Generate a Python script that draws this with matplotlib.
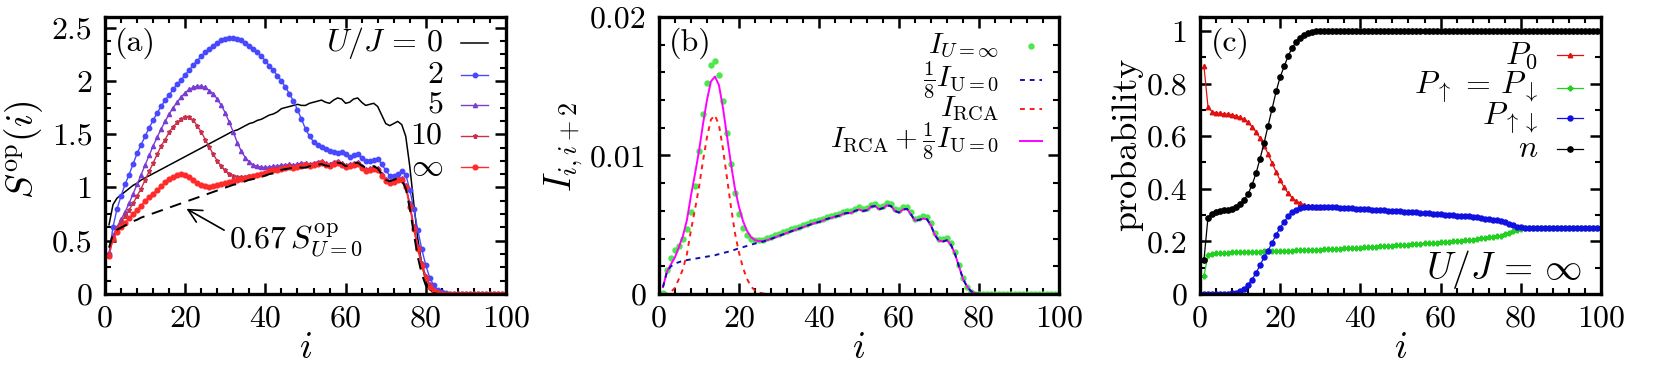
import matplotlib
matplotlib.use("Agg")
import matplotlib.pyplot as plt
import numpy as np

plt.rcParams["font.family"] = "serif"
plt.rcParams["font.serif"] = ["cmr10", "DejaVu Serif"]
plt.rcParams["mathtext.fontset"] = "cm"
plt.rcParams["axes.formatter.use_mathtext"] = True

# site index
site = np.arange(1, 101)

# ---------------- panel (a): S^op(i) ----------------
s_u0 = [0.65, 0.84, 0.90, 0.93, 0.96, 0.99, 1.02, 1.04, 1.07, 1.09,
        1.11, 1.13, 1.15, 1.17, 1.19, 1.21, 1.23, 1.25, 1.27, 1.29,
        1.31, 1.33, 1.35, 1.37, 1.39, 1.41, 1.43, 1.45, 1.47, 1.49,
        1.51, 1.53, 1.54, 1.56, 1.58, 1.60, 1.61, 1.63, 1.64, 1.66,
        1.68, 1.69, 1.71, 1.74, 1.75, 1.76, 1.77, 1.78, 1.77, 1.77,
        1.79, 1.80, 1.81, 1.82, 1.80, 1.79, 1.82, 1.84, 1.83, 1.79,
        1.80, 1.83, 1.84, 1.80, 1.77, 1.78, 1.79, 1.76, 1.68, 1.60,
        1.58, 1.60, 1.62, 1.59, 1.48, 1.20, 0.85, 0.52, 0.28, 0.12,
        0.04, 0.01, 0.0, 0.0, 0.0, 0.0, 0.0, 0.0, 0.0, 0.0,
        0.0, 0.0, 0.0, 0.0, 0.0, 0.0, 0.0, 0.0, 0.0, 0.0]
s_u2 = [0.38, 0.63, 0.80, 0.92, 1.03, 1.12, 1.22, 1.32, 1.40, 1.48,
        1.56, 1.63, 1.70, 1.76, 1.82, 1.87, 1.92, 1.97, 2.01, 2.06,
        2.10, 2.15, 2.19, 2.23, 2.27, 2.30, 2.33, 2.36, 2.38, 2.39,
        2.40, 2.40, 2.39, 2.38, 2.36, 2.33, 2.30, 2.27, 2.23, 2.19,
        2.14, 2.10, 2.05, 2.00, 1.94, 1.88, 1.81, 1.73, 1.64, 1.55,
        1.48, 1.43, 1.40, 1.38, 1.36, 1.34, 1.33, 1.32, 1.33, 1.31,
        1.29, 1.30, 1.31, 1.28, 1.25, 1.25, 1.26, 1.27, 1.22, 1.16,
        1.11, 1.11, 1.13, 1.15, 1.12, 0.98, 0.80, 0.60, 0.42, 0.27,
        0.15, 0.08, 0.04, 0.02, 0.01, 0.0, 0.0, 0.0, 0.0, 0.0,
        0.0, 0.0, 0.0, 0.0, 0.0, 0.0, 0.0, 0.0, 0.0, 0.0]
s_u5 = [0.38, 0.55, 0.63, 0.70, 0.77, 0.85, 0.94, 1.03, 1.12, 1.21,
        1.30, 1.39, 1.47, 1.55, 1.62, 1.69, 1.75, 1.80, 1.85, 1.89,
        1.92, 1.94, 1.95, 1.95, 1.94, 1.91, 1.88, 1.83, 1.77, 1.70,
        1.61, 1.52, 1.42, 1.34, 1.28, 1.24, 1.21, 1.20, 1.19, 1.19,
        1.19, 1.20, 1.20, 1.21, 1.21, 1.22, 1.21, 1.22, 1.23, 1.23,
        1.22, 1.23, 1.24, 1.25, 1.23, 1.22, 1.24, 1.25, 1.23, 1.21,
        1.22, 1.23, 1.24, 1.20, 1.17, 1.18, 1.19, 1.18, 1.13, 1.08,
        1.06, 1.07, 1.09, 1.09, 1.02, 0.85, 0.64, 0.45, 0.29, 0.17,
        0.09, 0.04, 0.02, 0.01, 0.0, 0.0, 0.0, 0.0, 0.0, 0.0,
        0.0, 0.0, 0.0, 0.0, 0.0, 0.0, 0.0, 0.0, 0.0, 0.0]
s_u10 = [0.37, 0.52, 0.62, 0.68, 0.73, 0.79, 0.85, 0.92, 0.99, 1.07,
         1.15, 1.23, 1.31, 1.39, 1.45, 1.52, 1.57, 1.61, 1.64, 1.66,
         1.66, 1.63, 1.58, 1.52, 1.45, 1.38, 1.31, 1.25, 1.20, 1.16,
         1.13, 1.11, 1.10, 1.10, 1.10, 1.11, 1.11, 1.12, 1.13, 1.14,
         1.16, 1.17, 1.17, 1.18, 1.19, 1.20, 1.19, 1.20, 1.21, 1.22,
         1.21, 1.22, 1.23, 1.24, 1.22, 1.21, 1.23, 1.24, 1.22, 1.20,
         1.21, 1.22, 1.23, 1.19, 1.16, 1.17, 1.18, 1.17, 1.12, 1.07,
         1.05, 1.06, 1.08, 1.08, 1.01, 0.84, 0.63, 0.44, 0.28, 0.16,
         0.08, 0.04, 0.02, 0.01, 0.0, 0.0, 0.0, 0.0, 0.0, 0.0,
         0.0, 0.0, 0.0, 0.0, 0.0, 0.0, 0.0, 0.0, 0.0, 0.0]
s_uinf = [0.36, 0.52, 0.58, 0.63, 0.67, 0.71, 0.75, 0.79, 0.83, 0.87,
          0.91, 0.94, 0.98, 1.01, 1.05, 1.08, 1.10, 1.12, 1.13, 1.12,
          1.10, 1.07, 1.04, 1.02, 1.01, 1.00, 1.01, 1.02, 1.03, 1.04,
          1.05, 1.06, 1.07, 1.08, 1.09, 1.10, 1.11, 1.12, 1.13, 1.14,
          1.15, 1.16, 1.16, 1.17, 1.18, 1.19, 1.18, 1.19, 1.20, 1.21,
          1.20, 1.21, 1.22, 1.23, 1.21, 1.20, 1.22, 1.23, 1.21, 1.19,
          1.20, 1.21, 1.22, 1.18, 1.15, 1.16, 1.17, 1.16, 1.11, 1.06,
          1.04, 1.05, 1.07, 1.07, 1.00, 0.82, 0.61, 0.42, 0.26, 0.15,
          0.07, 0.03, 0.01, 0.0, 0.0, 0.0, 0.0, 0.0, 0.0, 0.0,
          0.0, 0.0, 0.0, 0.0, 0.0, 0.0, 0.0, 0.0, 0.0, 0.0]
scale_factor = 0.67

# ---------------- panel (b): currents, in units of 1e-3 ----------------
cur_uinf = [0.05, 1.7, 2.6, 3.15, 3.5, 4.0, 4.7, 5.9, 7.8, 10.3,
            13.0, 15.2, 16.5, 16.8, 15.8, 13.9, 11.6, 9.4, 7.3, 5.8,
            4.8, 4.25, 3.95, 3.87, 3.88, 3.93, 4.03, 4.13, 4.24, 4.35,
            4.45, 4.56, 4.67, 4.77, 4.87, 4.98, 5.08, 5.18, 5.27, 5.35,
            5.45, 5.57, 5.65, 5.73, 5.8, 5.93, 6.0, 6.0, 6.15, 6.25,
            6.15, 6.2, 6.45, 6.5, 6.27, 6.35, 6.55, 6.5, 6.15, 6.03,
            6.25, 6.3, 5.9, 5.45, 5.5, 5.6, 5.55, 5.1, 4.4, 4.0,
            3.97, 4.05, 3.7, 3.05, 2.1, 1.15, 0.5, 0.15, 0.03, 0.01,
            0.0, 0.0, 0.0, 0.0, 0.0, 0.0, 0.0, 0.0, 0.0, 0.0,
            0.0, 0.0, 0.0, 0.0, 0.0, 0.0, 0.0, 0.0, 0.0, 0.0]
cur_u0_8 = [0.5, 1.6, 2.0, 2.2, 2.3, 2.4, 2.45, 2.5, 2.55, 2.6,
            2.65, 2.7, 2.75, 2.8, 2.88, 2.95, 3.03, 3.1, 3.2, 3.3,
            3.38, 3.47, 3.56, 3.64, 3.72, 3.78, 3.88, 3.98, 4.09, 4.2,
            4.3, 4.41, 4.52, 4.62, 4.72, 4.83, 4.93, 5.03, 5.12, 5.2,
            5.3, 5.42, 5.5, 5.58, 5.65, 5.78, 5.85, 5.85, 6.0, 6.1,
            6.0, 6.05, 6.3, 6.35, 6.12, 6.2, 6.4, 6.35, 6.0, 5.88,
            6.1, 6.15, 5.75, 5.3, 5.35, 5.45, 5.4, 4.95, 4.25, 3.85,
            3.8, 3.88, 3.55, 2.9, 2.0, 1.1, 0.55, 0.2, 0.05, 0.01,
            0.0, 0.0, 0.0, 0.0, 0.0, 0.0, 0.0, 0.0, 0.0, 0.0,
            0.0, 0.0, 0.0, 0.0, 0.0, 0.0, 0.0, 0.0, 0.0, 0.0]
# RCA current, sites 1..30 (zero beyond)
cur_rca = [0.0, 0.02, 0.15, 0.45, 1.1, 1.8, 2.9, 4.6, 6.1, 7.7,
           9.6, 11.3, 12.6, 12.9, 12.2, 10.5, 8.4, 6.3, 4.4, 3.0,
           1.9, 1.1, 0.55, 0.25, 0.1, 0.04, 0.01, 0.0, 0.0, 0.0]

# ---------------- panel (c): probabilities, U/J = inf ----------------
# P0 for sites 1..30 (afterwards it lies under P_updown)
prob_0 = [0.865, 0.712, 0.693, 0.689, 0.687, 0.685, 0.684, 0.681, 0.677, 0.671,
          0.664, 0.652, 0.636, 0.616, 0.592, 0.564, 0.532, 0.497, 0.464, 0.432,
          0.405, 0.383, 0.366, 0.353, 0.345, 0.339, 0.335, 0.333, 0.332, 0.331]
prob_up = [0.068, 0.148, 0.153, 0.155, 0.156, 0.157, 0.157, 0.158, 0.158, 0.159,
           0.159, 0.160, 0.160, 0.161, 0.161, 0.162, 0.162, 0.163, 0.163, 0.164,
           0.164, 0.165, 0.165, 0.166, 0.166, 0.167, 0.167, 0.168, 0.168, 0.169,
           0.170, 0.170, 0.171, 0.171, 0.172, 0.173, 0.173, 0.174, 0.175, 0.176,
           0.177, 0.178, 0.179, 0.180, 0.181, 0.182, 0.183, 0.184, 0.185, 0.186,
           0.187, 0.188, 0.189, 0.190, 0.191, 0.192, 0.193, 0.194, 0.195, 0.196,
           0.198, 0.199, 0.201, 0.202, 0.203, 0.204, 0.205, 0.207, 0.209, 0.211,
           0.213, 0.215, 0.217, 0.219, 0.222, 0.227, 0.233, 0.239, 0.244, 0.247,
           0.249, 0.25, 0.25, 0.25, 0.25, 0.25, 0.25, 0.25, 0.25, 0.25,
           0.25, 0.25, 0.25, 0.25, 0.25, 0.25, 0.25, 0.25, 0.25, 0.25]
prob_dbl = [0.0, 0.0, 0.0, 0.0, 0.0, 0.001, 0.001, 0.002, 0.005, 0.01,
            0.02, 0.035, 0.055, 0.08, 0.11, 0.14, 0.165, 0.195, 0.225, 0.252,
            0.275, 0.295, 0.31, 0.32, 0.326, 0.33, 0.332, 0.332, 0.332, 0.331,
            0.330, 0.330, 0.329, 0.329, 0.328, 0.327, 0.327, 0.326, 0.325, 0.324,
            0.323, 0.322, 0.321, 0.320, 0.319, 0.318, 0.317, 0.316, 0.315, 0.314,
            0.313, 0.312, 0.311, 0.310, 0.309, 0.308, 0.307, 0.306, 0.305, 0.304,
            0.302, 0.301, 0.299, 0.298, 0.297, 0.296, 0.295, 0.293, 0.291, 0.289,
            0.287, 0.285, 0.283, 0.281, 0.278, 0.273, 0.267, 0.261, 0.256, 0.253,
            0.251, 0.25, 0.25, 0.25, 0.25, 0.25, 0.25, 0.25, 0.25, 0.25,
            0.25, 0.25, 0.25, 0.25, 0.25, 0.25, 0.25, 0.25, 0.25, 0.25]
dens_n = [0.13, 0.29, 0.305, 0.31, 0.315, 0.318, 0.32, 0.325, 0.332, 0.342,
          0.358, 0.38, 0.415, 0.46, 0.515, 0.575, 0.64, 0.705, 0.77, 0.825,
          0.865, 0.905, 0.935, 0.958, 0.975, 0.986, 0.993, 0.996, 0.998, 1.0,
          1.0, 1.0, 1.0, 1.0, 1.0, 1.0, 1.0, 1.0, 1.0, 1.0,
          1.0, 1.0, 1.0, 1.0, 1.0, 1.0, 1.0, 1.0, 1.0, 1.0,
          1.0, 1.0, 1.0, 1.0, 1.0, 1.0, 1.0, 1.0, 1.0, 1.0,
          1.0, 1.0, 1.0, 1.0, 1.0, 1.0, 1.0, 1.0, 1.0, 1.0,
          1.0, 1.0, 1.0, 1.0, 1.0, 1.0, 1.0, 1.0, 1.0, 1.0,
          1.0, 1.0, 1.0, 1.0, 1.0, 1.0, 1.0, 1.0, 1.0, 1.0,
          1.0, 1.0, 1.0, 1.0, 1.0, 1.0, 1.0, 1.0, 1.0, 1.0]

# tick labels
x_ticks = [0, 20, 40, 60, 80, 100]
a_yticks = [0, 0.5, 1, 1.5, 2, 2.5]
a_ylabels = ["0", "0.5", "1", "1.5", "2", "2.5"]
b_yticks = [0, 0.01, 0.02]
b_ylabels = ["0", "0.01", "0.02"]
c_yticks = [0, 0.2, 0.4, 0.6, 0.8, 1]
c_ylabels = ["0", "0.2", "0.4", "0.6", "0.8", "1"]

FS = 23      # ticks, legend
LFS = 27     # axis labels

fig = plt.figure(figsize=(16.59, 3.67), dpi=100)
ax_a = fig.add_axes([0.0633, 0.1989, 0.2417, 0.7548])
ax_b = fig.add_axes([0.3972, 0.1989, 0.2411, 0.7548])
ax_c = fig.add_axes([0.7233, 0.1989, 0.2417, 0.7548])


def style_axes(ax, yminor):
    for sp in ax.spines.values():
        sp.set_linewidth(2.4)
    ax.set_xlim(0, 100)
    ax.set_xticks(x_ticks)
    ax.set_xticklabels([str(t) for t in x_ticks])
    ax.set_xticks(np.arange(0, 101, 4), minor=True)
    ax.set_yticks(yminor, minor=True)
    ax.tick_params(which="both", direction="in", top=True, right=True,
                   labelsize=FS)
    ax.tick_params(axis="x", pad=8)
    ax.tick_params(axis="y", pad=9)
    ax.tick_params(which="major", length=8, width=1.8)
    ax.tick_params(which="minor", length=4.5, width=1.5)
    ax.set_xlabel(r"$i$", fontsize=LFS)
    ax.xaxis.set_label_coords(0.5, -0.135)


def key(ax, y, label, x_text, x0, x1, fs=FS, **kw):
    ax.text(x_text, y, label, transform=ax.transAxes, ha="right",
            va="center", fontsize=fs)
    ax.plot([x0, (x0 + x1) / 2, x1], [y, y, y], transform=ax.transAxes,
            clip_on=False, markevery=[1], **kw)


# ----- (a)
ax = ax_a
ax.plot(site, s_u0, color="black", lw=1.1)
ax.plot(site, s_u2, color="#4848ff", lw=1.0, marker="o", ms=3.2)
ax.plot(site, s_u5, color="#7a3dd4", lw=1.0, marker="^", ms=3.0)
ax.plot(site, s_u10, color="#c8304c", lw=1.0, marker="*", ms=3.6)
ax.plot(site, s_uinf, color="#ff2a2a", lw=1.0, marker="o", ms=3.4)
ax.plot(site, scale_factor * np.array(s_u0), color="black", lw=1.4,
        dashes=(6, 4))
ax.set_ylim(0, 2.6)
ax.set_yticks(a_yticks)
ax.set_yticklabels(a_ylabels)
style_axes(ax, np.arange(0, 2.6, 0.125))
ax.set_ylabel(r"$S^{\rm op}(i)$", fontsize=LFS)
ax.yaxis.set_label_coords(-0.15, 0.52)
ax.text(0.075, 0.906, "(a)", transform=ax.transAxes, ha="center",
        va="center", fontsize=FS)
ax.annotate(r"$0.67\,S^{\rm op}_{U=0}$", xy=(20.3, 0.80), xytext=(31, 0.50),
            ha="left", va="center", fontsize=FS,
            arrowprops=dict(arrowstyle="->", lw=1.2, mutation_scale=24,
                            relpos=(0.0, 0.7), shrinkA=2, shrinkB=0))
rows_a = [0.906, 0.79, 0.682, 0.570, 0.458]
key(ax, rows_a[0], r"$U/J\,=\,0$", 0.843, 0.888, 0.955, color="black",
    lw=1.1)
key(ax, rows_a[1], r"$2$", 0.843, 0.888, 0.955, color="#4848ff", lw=1.0,
    marker="o", ms=3.2)
key(ax, rows_a[2], r"$5$", 0.843, 0.888, 0.955, color="#7a3dd4", lw=1.0,
    marker="^", ms=3.0)
key(ax, rows_a[3], r"$10$", 0.843, 0.888, 0.955, color="#c8304c", lw=1.0,
    marker="*", ms=3.6)
key(ax, rows_a[4], r"$\infty$", 0.843, 0.888, 0.955, color="#ff2a2a",
    lw=1.0, marker="o", ms=3.4)

# ----- (b)
ax = ax_b
cur_total = np.array(cur_u0_8)
cur_total[:len(cur_rca)] += np.array(cur_rca)
ax.plot(site, np.array(cur_uinf) * 1e-3, ls="none", marker="o", ms=3.6,
        color="#4be84b")
ax.plot(site, cur_total * 1e-3, color="#ff00ff", lw=1.4)
ax.plot(site[:len(cur_rca)], np.array(cur_rca) * 1e-3, color="#ff1a1a",
        lw=1.4, dashes=(2.5, 2.5))
ax.plot(site, np.array(cur_u0_8) * 1e-3, color="#1010b0", lw=1.4,
        dashes=(2.5, 2.5))
ax.set_ylim(0, 0.02)
ax.set_yticks(b_yticks)
ax.set_yticklabels(b_ylabels)
style_axes(ax, np.arange(0, 0.0201, 0.002))
ax.set_ylabel(r"$I_{i,i+2}$", fontsize=LFS)
ax.yaxis.set_label_coords(-0.185, 0.53)
ax.text(0.078, 0.906, "(b)", transform=ax.transAxes, ha="center",
        va="center", fontsize=FS)
rows_b = [0.895, 0.772, 0.668, 0.552]
key(ax, rows_b[0], r"$I_{U=\infty}$", 0.85, 0.903, 0.958, fs=21, ls="none",
    marker="o", ms=3.6, color="#4be84b")
key(ax, rows_b[1], r"$\frac{1}{8}I_{\rm U=0}$", 0.85, 0.903, 0.958, fs=21,
    color="#1010b0", lw=1.4, dashes=(2.5, 2.5))
key(ax, rows_b[2], r"$I_{\rm RCA}$", 0.85, 0.903, 0.958, fs=21,
    color="#ff1a1a", lw=1.4, dashes=(2.5, 2.5))
key(ax, rows_b[3], r"$I_{\rm RCA}+\frac{1}{8}I_{\rm U=0}$", 0.85, 0.903,
    0.958, fs=21, color="#ff00ff", lw=1.4)

# ----- (c)
ax = ax_c
ax.plot(site[:len(prob_0)], prob_0, color="#e01010", lw=0.9, marker="^",
        ms=3.2)
ax.plot(site, prob_up, color="#22d022", lw=0.9, marker="P", ms=3.4)
ax.plot(site, prob_dbl, color="#1010e0", lw=0.9, marker="o", ms=3.6)
ax.plot(site, dens_n, color="black", lw=0.9, marker="o", ms=3.8)
ax.set_ylim(0, 1.053)
ax.set_yticks(c_yticks)
ax.set_yticklabels(c_ylabels)
style_axes(ax, np.arange(0, 1.05, 0.1))
ax.set_ylabel("probability", fontsize=26)
ax.yaxis.set_label_coords(-0.142, 0.54)
ax.text(0.075, 0.906, "(c)", transform=ax.transAxes, ha="center",
        va="center", fontsize=FS)
ax.text(0.953, 0.09, r"$U/J\,=\,\infty$", transform=ax.transAxes,
        ha="right", va="center", fontsize=LFS)
rows_c = [0.862, 0.745, 0.635, 0.523]
key(ax, rows_c[0], r"$P_0$", 0.843, 0.890, 0.955, color="#e01010", lw=0.9,
    marker="^", ms=3.2)
key(ax, rows_c[1], r"$P_\uparrow\,=\,P_\downarrow$", 0.843, 0.890, 0.955,
    color="#22d022", lw=0.9, marker="P", ms=3.4)
key(ax, rows_c[2], r"$P_{\uparrow\downarrow}$", 0.843, 0.890, 0.955,
    color="#1010e0", lw=0.9, marker="o", ms=3.6)
key(ax, rows_c[3], r"$n$", 0.843, 0.890, 0.955, color="black", lw=0.9,
    marker="o", ms=3.8)

fig.savefig("out.png", dpi=100)
